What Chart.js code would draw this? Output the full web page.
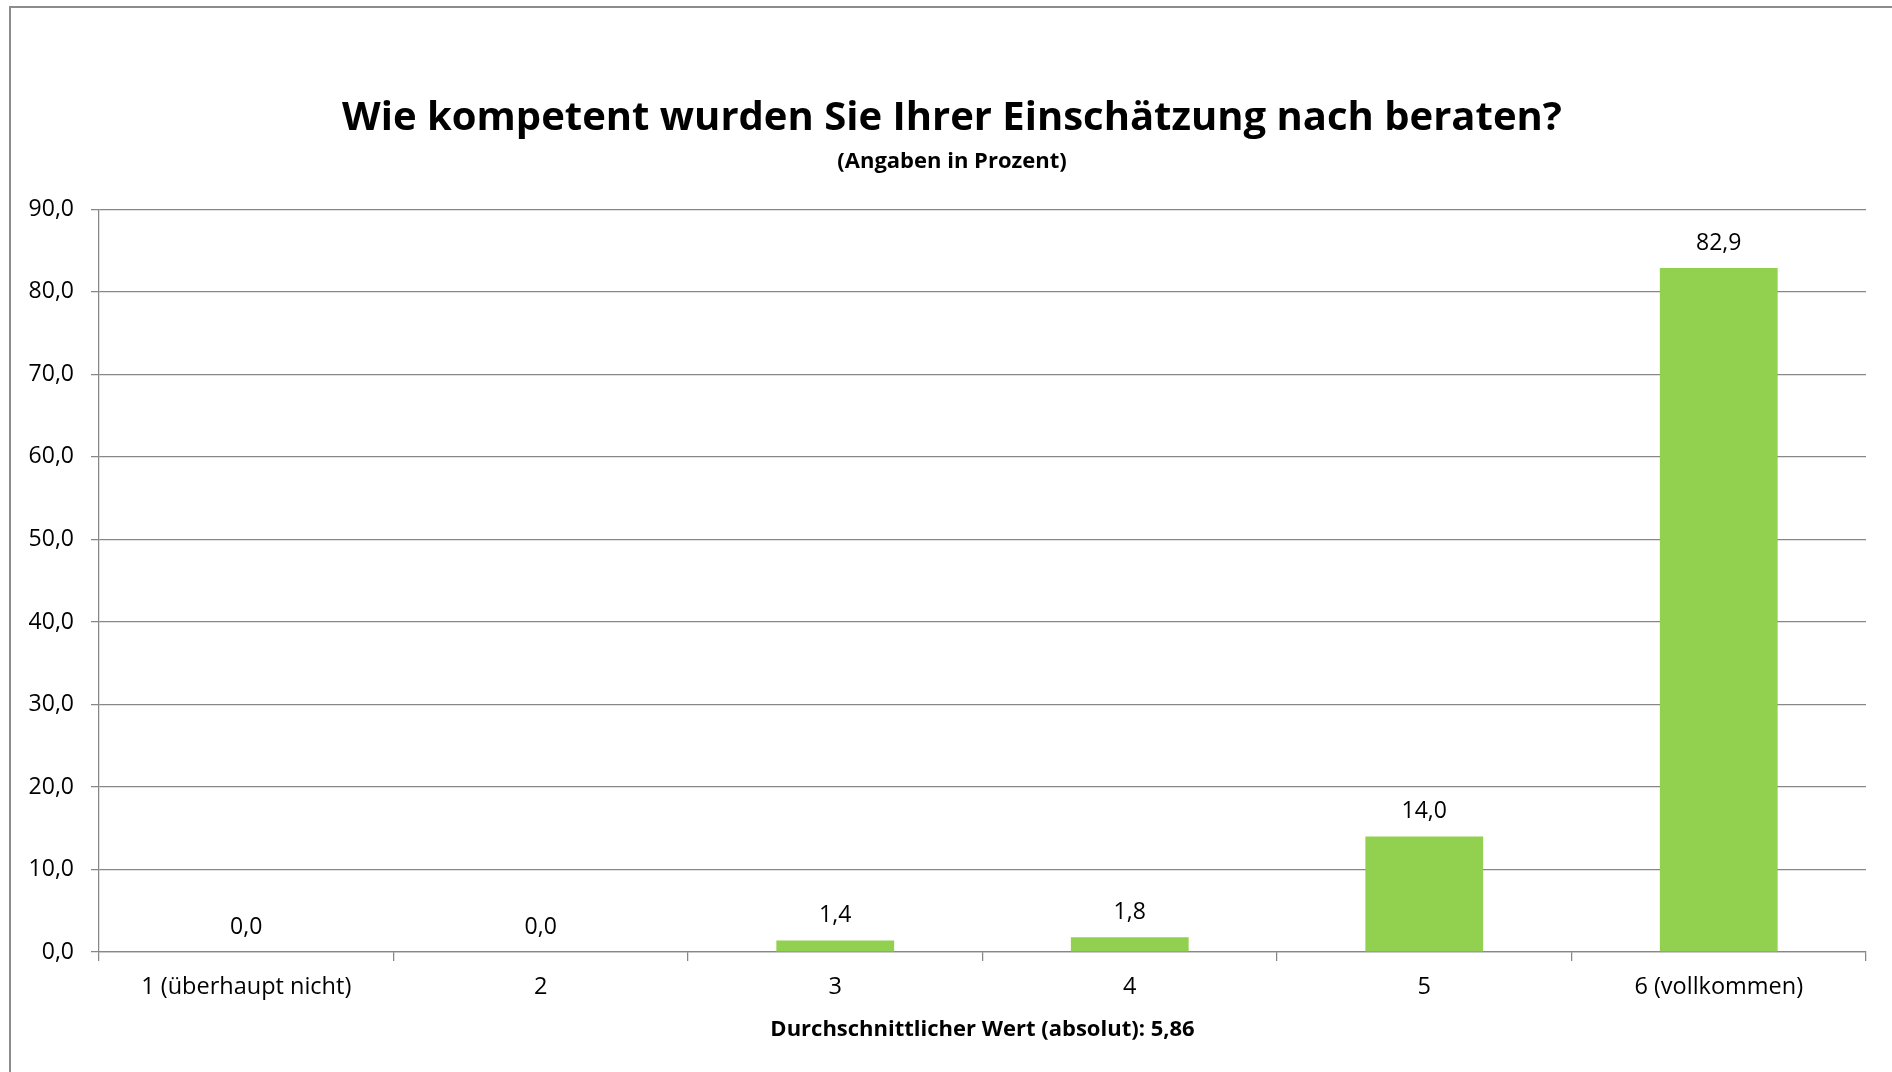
<!DOCTYPE html>
<html lang="de">
<head>
  <meta charset="UTF-8">
  <title>Kompetenz der Beratung</title>
  <script src="https://cdn.jsdelivr.net/npm/chart.js"></script>
  <style>
    body { margin: 0; background: #fff; }
    canvas { display: block; }
  </style>
</head>
<body>
  <canvas id="myChart" width="1892" height="1072"></canvas>

  <script>
    // Antwortskala 1-6 und Anteil der Antworten in Prozent
    var categories = ['1 (überhaupt nicht)', '2', '3', '4', '5', '6 (vollkommen)'];
    var percentValues = [0.0, 0.0, 1.4, 1.8, 14.0, 82.9];
    var yTickValues = [0, 10, 20, 30, 40, 50, 60, 70, 80, 90];

    var chartTitle = 'Wie kompetent wurden Sie Ihrer Einschätzung nach beraten?';
    var chartSubtitle = '(Angaben in Prozent)';
    var xAxisTitle = 'Durchschnittlicher Wert (absolut): 5,86';

    var gridColor = '#878787';
    var fontFamily = "'Open Sans', Calibri, sans-serif";

    // 82.9 -> "82,9"
    function formatDe(value) {
      return Number(value).toFixed(1).replace('.', ',');
    }

    // grey frame around the whole chart (left and top edge visible)
    var framePlugin = {
      id: 'frame',
      beforeDraw: function(chart) {
        var ctx = chart.ctx;
        ctx.save();
        ctx.fillStyle = '#fff';
        ctx.fillRect(0, 0, chart.width, chart.height);
        ctx.strokeStyle = '#8c8c8c';
        ctx.lineWidth = 2;
        ctx.beginPath();
        ctx.moveTo(10, chart.height + 2);
        ctx.lineTo(10, 7);
        ctx.lineTo(chart.width + 2, 7);
        ctx.stroke();
        ctx.restore();
      }
    };

    // centre title + subtitle inside the frame instead of over the whole canvas
    var titleOffsetPlugin = {
      id: 'titleOffset',
      afterLayout: function(chart) {
        chart.boxes.forEach(function(box) {
          if (box.options && (box.options.text === chartTitle || box.options.text === chartSubtitle)) {
            box.left += 38;
          }
        });
      }
    };

    // value labels above each bar
    var valueLabelPlugin = {
      id: 'valueLabels',
      afterDatasetsDraw: function(chart) {
        var ctx = chart.ctx;
        var meta = chart.getDatasetMeta(0);
        var values = chart.data.datasets[0].data;
        ctx.save();
        ctx.font = '23px ' + fontFamily;
        ctx.fillStyle = '#000';
        ctx.textAlign = 'center';
        ctx.textBaseline = 'middle';
        meta.data.forEach(function(bar, i) {
          ctx.fillText(formatDe(values[i]), bar.x, bar.y - 25);
        });
        ctx.restore();
      }
    };

    function createChart() {
      var ctx = document.getElementById('myChart').getContext('2d');

      new Chart(ctx, {
        type: 'bar',
        data: {
          labels: categories,
          datasets: [{
            label: 'Prozent',
            data: percentValues,
            backgroundColor: '#92d050',
            borderWidth: 0,
            barPercentage: 0.4,
            categoryPercentage: 1.0
          }]
        },
        options: {
          responsive: false,
          animation: false,
          devicePixelRatio: 1,
          layout: {
            padding: { top: 0, right: 26, bottom: 0, left: 0 }
          },
          plugins: {
            legend: { display: false },
            tooltip: { enabled: false },
            title: {
              display: true,
              text: chartTitle,
              color: '#000',
              font: { family: fontFamily, size: 40, weight: 'bold' },
              padding: { top: 95, bottom: 0 }
            },
            subtitle: {
              display: true,
              text: chartSubtitle,
              color: '#000',
              font: { family: fontFamily, size: 22, weight: 'bold' },
              padding: { top: 6, bottom: 34 }
            }
          },
          scales: {
            x: {
              grid: {
                display: true,
                drawOnChartArea: false,
                drawTicks: true,
                tickLength: 9,
                color: gridColor,
                lineWidth: 1.25,
                offset: true
              },
              border: { color: gridColor, width: 1.25 },
              ticks: {
                color: '#000',
                font: { family: fontFamily, size: 23.5 },
                padding: 12,
                maxRotation: 0,
                autoSkip: false
              },
              title: {
                display: true,
                text: xAxisTitle,
                color: '#000',
                font: { family: fontFamily, size: 22, weight: 'bold' },
                padding: { top: 0, bottom: 29 }
              },
              afterFit: function(scale) {
                scale.height = 120;
              }
            },
            y: {
              min: 0,
              max: 90,
              grid: {
                color: gridColor,
                lineWidth: 1.25,
                drawTicks: true,
                tickLength: 8
              },
              border: { color: gridColor, width: 1.25 },
              ticks: {
                color: '#000',
                font: { family: fontFamily, size: 23 },
                padding: 17,
                callback: function(value) { return formatDe(value); }
              },
              afterBuildTicks: function(scale) {
                scale.ticks = yTickValues.map(function(v) { return { value: v }; });
              },
              afterFit: function(scale) {
                scale.width = 99;
              }
            }
          }
        },
        plugins: [framePlugin, titleOffsetPlugin, valueLabelPlugin]
      });
    }

    createChart();
  </script>
</body>
</html>
